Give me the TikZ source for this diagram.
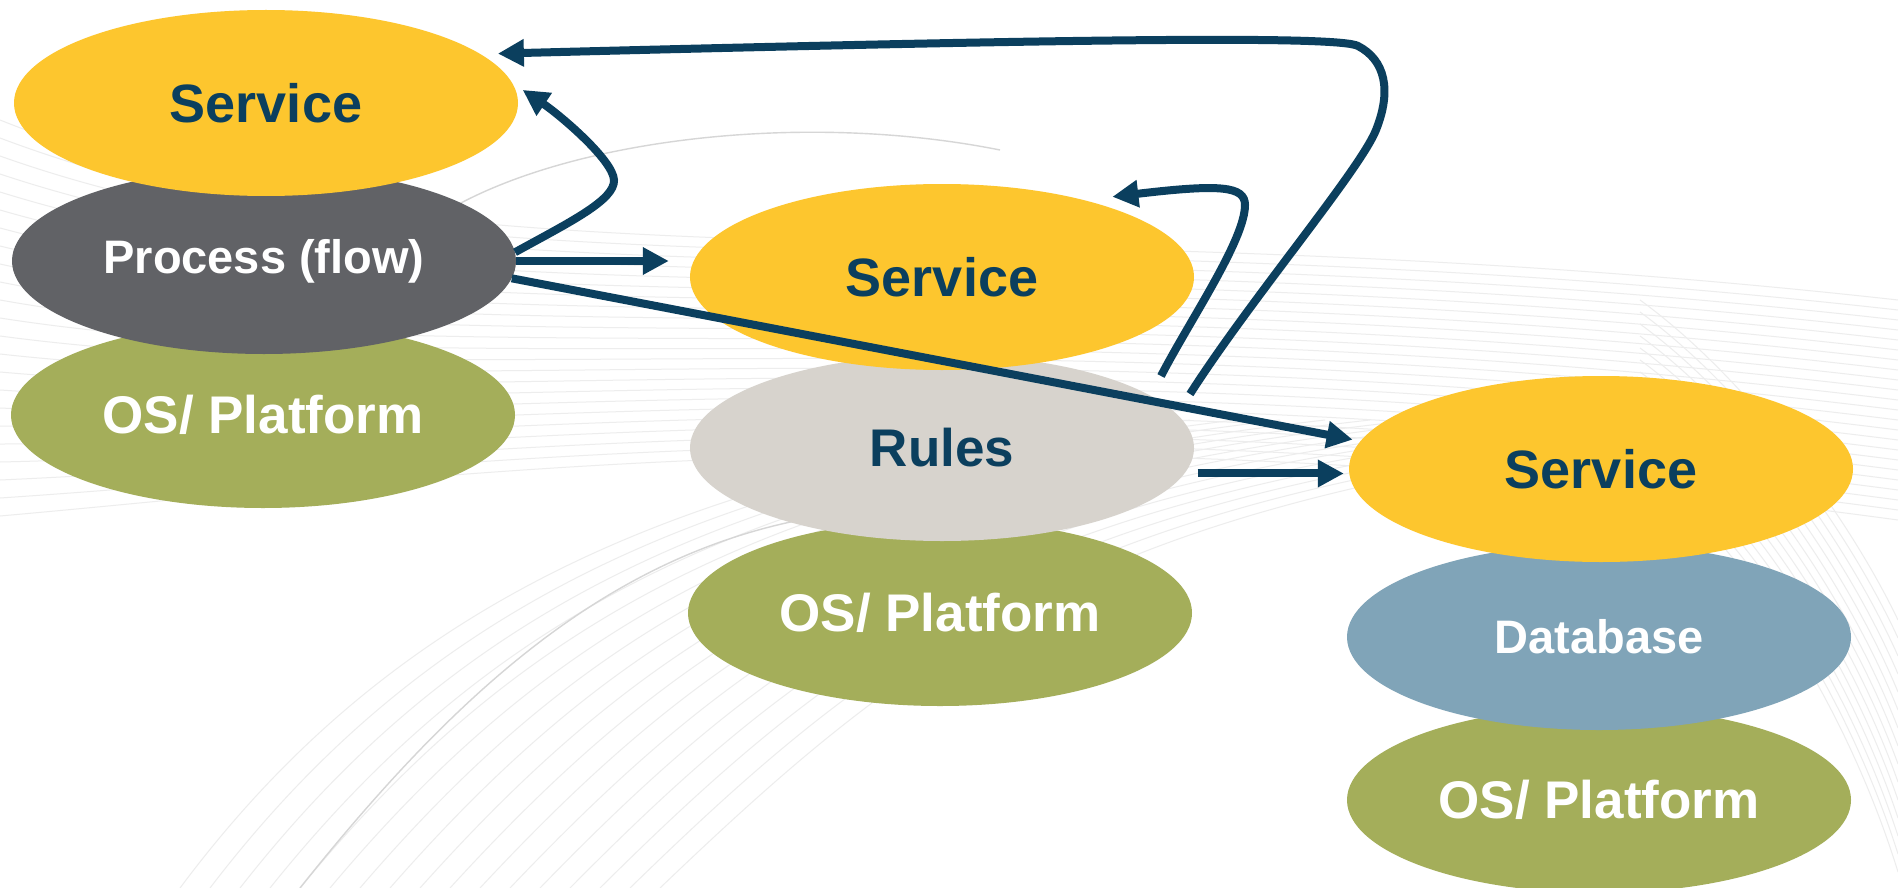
\documentclass[tikz,border=0pt]{standalone}
\usepackage{fontspec}
\setmainfont{Liberation Sans}
\usetikzlibrary{shapes.geometric,arrows.meta}

\definecolor{svcY}{HTML}{FDC62E}
\definecolor{procG}{HTML}{616266}
\definecolor{osG}{HTML}{A4AE5A}
\definecolor{ruleG}{HTML}{D7D3CD}
\definecolor{dbB}{HTML}{80A4B8}
\definecolor{navy}{HTML}{0B3F5E}

\tikzset{
  layer/.style={ellipse, minimum width=504pt, minimum height=186pt, inner sep=0pt},
  svc/.style={layer, fill=svcY, text=navy, font=\bfseries\fontsize{54}{60}\selectfont},
  proc/.style={layer, fill=procG, text=white, font=\bfseries\fontsize{47}{54}\selectfont},
  osp/.style={layer, fill=osG, text=white, font=\bfseries\fontsize{53}{60}\selectfont},
  rule/.style={layer, fill=ruleG, text=navy, font=\bfseries\fontsize{53}{60}\selectfont},
  dbase/.style={layer, fill=dbB, text=white, font=\bfseries\fontsize{47}{54}\selectfont},
  arr/.style={draw=navy, line width=8pt, -{Triangle[length=26pt,width=26pt]}},
  bgline/.style={draw=black!7, line width=1pt},
  bgdark/.style={draw=black!16, line width=1.4pt}
}

\begin{document}
\begin{tikzpicture}[x=1pt,y=-1pt]
  \useasboundingbox (0,0) rectangle (1898,888);
  \fill[white] (0,0) rectangle (1898,888);

  % faint swirl lines in the background
  \foreach \k in {0,...,22}{
    \draw[bgline] (0,120+18*\k) .. controls (450,300+8*\k) and (1000,200+9*\k) .. (1898,300+10*\k);
  }
  \foreach \k in {0,...,16}{
    \draw[bgline] (180+30*\k,888) .. controls (380+35*\k,620) and (650+30*\k,480) .. (1100+45*\k,420);
  }
  \foreach \k in {0,...,14}{
    \draw[bgline] (1640,300+12*\k) .. controls (1750,380+12*\k) and (1850,520+14*\k) .. (1898,620+18*\k);
  }
  \draw[bgdark] (300,888) .. controls (450,700) and (600,560) .. (800,520);
  \draw[bgdark] (440,215) .. controls (560,140) and (800,110) .. (1000,150);

  % left stack
  \node[osp]  (osL)  at (263,415) {OS/ Platform};
  \node[proc] (proc) at (264,261) {Process (flow)};
  \node[svc]  (svcL) at (266,103) {Service};

  % middle stack
  \node[osp]  (osM)   at (940,613) {OS/ Platform};
  \node[rule] (rules) at (942,448) {Rules};
  \node[svc]  (svcM)  at (942,277) {Service};

  % right stack
  \node[osp]   (osR)  at (1599,800) {OS/ Platform};
  \node[dbase] (db)   at (1599,637) {Database};
  \node[svc]   (svcR) at (1601,469) {Service};

  % free ends of the two loops above the rules layer
  \coordinate (loopA) at (1190,394);
  \coordinate (loopB) at (1161,376);

  % connectors
  \draw[arr, shorten >=21pt] (proc.east) -- (proc.east -| svcM.west);
  \draw[arr] (proc.-4) -- ([xshift=-9pt]svcR.173);
  \draw[arr] (proc.2) .. controls (570,222) and (615,200) .. (614,180)
             .. controls (613,160) and (560,115) .. ([xshift=7pt]svcL.3);
  \draw[arr] (loopA) .. controls (1250,300) and (1360,170) .. (1376,130)
             .. controls (1392,90) and (1385,60) .. (1358,46)
             .. controls (1340,36) and (1100,38) .. ([xshift=18pt]svcL.13.5);
  \draw[arr] (loopB) .. controls (1190,320) and (1245,240) .. (1245,205)
             .. controls (1245,186) and (1220,184) .. ([xshift=42pt]svcM.32.5);
  \draw[arr, shorten >=5pt] ([xshift=13pt]rules.-6) -- (rules.-6 -| svcR.west);
\end{tikzpicture}
\end{document}
